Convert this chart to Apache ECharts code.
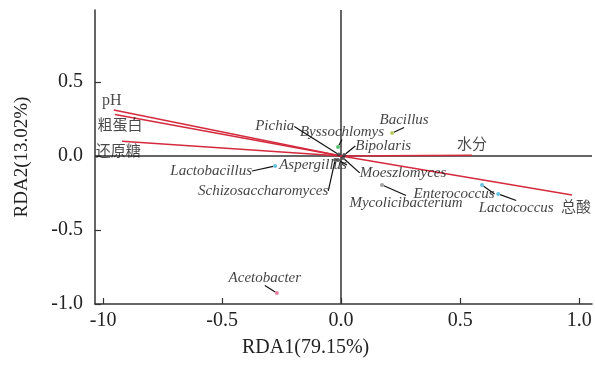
<!DOCTYPE html>
<html><head><meta charset="utf-8">
<script src="https://cdn.jsdelivr.net/npm/echarts@6/dist/echarts.min.js"></script>
<style>html,body{margin:0;padding:0;background:#fff}#c{width:595px;height:365px}</style>
</head><body><div id="c"></div>
<script>
const envNames = ['pH', '粗蛋白', '还原糖', '水分', '总酸'];
const envX = [-0.955, -0.95, -0.92, 0.55, 0.97];
const envY = [0.31, 0.28, 0.10, 0.005, -0.264];

const speciesNames = ['Pichia', 'Byssochlomys', 'Bacillus', 'Bipolaris', 'Lactobacillus', 'Aspergillus',
  'Schizosaccharomyces', 'Moeszlomyces', 'Mycolicibacterium', 'Enterococcus', 'Lactococcus', 'Acetobacter'];
const speciesX = [-0.01, -0.013, 0.214, 0.013, -0.277, -0.013, -0.025, 0.008, 0.172, 0.592, 0.66, -0.27];
const speciesY = [0.01, 0.06, 0.155, 0.007, -0.068, -0.027, -0.027, -0.013, -0.196, -0.196, -0.257, -0.926];

const xTicks = [-1.0, -0.5, 0.0, 0.5, 1.0];
const xTickLabels = ['-10', '-0.5', '0.0', '0.5', '1.0'];
const yTicks = [-1.0, -0.5, 0.0, 0.5];
const yTickLabels = ['-1.0', '-0.5', '0.0', '0.5'];

// style lookups
const speciesColors = ['#333', '#2fb24c', '#a9c23c', '#333', '#3fb2d8', '#333', '#333', '#333', '#888', '#3fb2d8', '#3fb2d8', '#e0608c'];
const speciesOffsets = [[-64, -28], [4, -15], [12, -13], [39, -9], [-64, 5], [-25, 5], [-72, 31], [60, 15], [24, 18], [-28, 9], [18, 14], [-12, -15]];
const envLabelPos = ['top', 'bottom', 'bottom', 'top', 'bottom'];
const envLabelOff = [[-2, 3], [5, -2], [-4, -2], [0, 0], [4, 0]];
const envLabelFont = ['"Liberation Serif", serif', '"Noto Sans CJK SC", serif', '"Noto Sans CJK SC", serif', '"Noto Sans CJK SC", serif', '"Noto Sans CJK SC", serif'];
const envLabelSize = [16, 15, 15, 15, 15];
const red = '#d42a3e';
const serif = '"Liberation Serif", "Times New Roman", serif';

const chart = echarts.init(document.getElementById('c'), null, {renderer: 'canvas'});

const series = [];
envNames.forEach((n, i) => {
  series.push({
    type: 'line', data: [[0, 0], [envX[i], envY[i]]], symbol: 'none',
    lineStyle: {color: red, width: 1.5}, z: 3, silent: true
  });
});
series.push({
  type: 'scatter', symbolSize: 0.1, z: 4,
  data: envNames.map((n, i) => ({
    value: [envX[i], envY[i]], name: n,
    label: {show: true, position: envLabelPos[i], offset: envLabelOff[i], distance: 4,
      fontFamily: envLabelFont[i], fontSize: envLabelSize[i]}
  })),
  label: {formatter: '{b}', color: '#1a1a1a'},
  itemStyle: {color: 'transparent'}
});
series.push({
  type: 'scatter', symbolSize: 4, z: 5,
  data: speciesNames.map((n, i) => ({
    value: [speciesX[i], speciesY[i]], name: n,
    itemStyle: {color: speciesColors[i]}
  })),
  label: {show: true, position: 'inside', formatter: '{b}', color: '#111', fontSize: 15,
    fontStyle: 'italic', fontFamily: serif},
  labelLine: {show: true, lineStyle: {color: '#111', width: 1.2}, length2: 0},
  labelLayout: function (p) {
    const o = speciesOffsets[p.dataIndex];
    return {dx: o[0], dy: o[1]};
  },
  markLine: {
    silent: true, symbol: 'none', label: {show: false},
    lineStyle: {color: '#333', width: 1.5, type: 'solid'},
    data: [{xAxis: 0}, {yAxis: 0}], z: 1
  }
});

chart.setOption({
  animation: false,
  title: {text: 'RDA1(79.15%)', left: 237, top: 333,
    textStyle: {fontFamily: serif, fontWeight: 'normal', fontSize: 20, color: '#222'}},
  grid: {left: 95, right: 3, top: 10, bottom: 61},
  xAxis: {
    type: 'value', min: -1.034, max: 1.054,
    axisLine: {show: true, onZero: false, lineStyle: {color: '#333', width: 1.5}},
    axisTick: {show: true, inside: true, length: 6, customValues: xTicks, lineStyle: {color: '#333', width: 1.2}},
    axisLabel: {customValues: xTicks, margin: 7, fontFamily: serif, fontSize: 20, color: '#222',
      formatter: v => xTickLabels[xTicks.findIndex(t => Math.abs(t - v) < 1e-6)]},
    splitLine: {show: false}
  },
  yAxis: {
    type: 'value', min: -1.0, max: 0.986,
    name: 'RDA2(13.02%)', nameLocation: 'middle', nameGap: 63, nameRotate: 90,
    nameTextStyle: {fontFamily: serif, fontSize: 19, color: '#222'},
    axisLine: {show: true, onZero: false, lineStyle: {color: '#333', width: 1.5}},
    axisTick: {show: true, inside: true, length: 6, customValues: yTicks, lineStyle: {color: '#333', width: 1.2}},
    axisLabel: {customValues: yTicks, margin: 12, fontFamily: serif, fontSize: 20, color: '#222',
      formatter: v => yTickLabels[yTicks.findIndex(t => Math.abs(t - v) < 1e-6)]},
    splitLine: {show: false}
  },
  series: series
});
</script></body></html>
